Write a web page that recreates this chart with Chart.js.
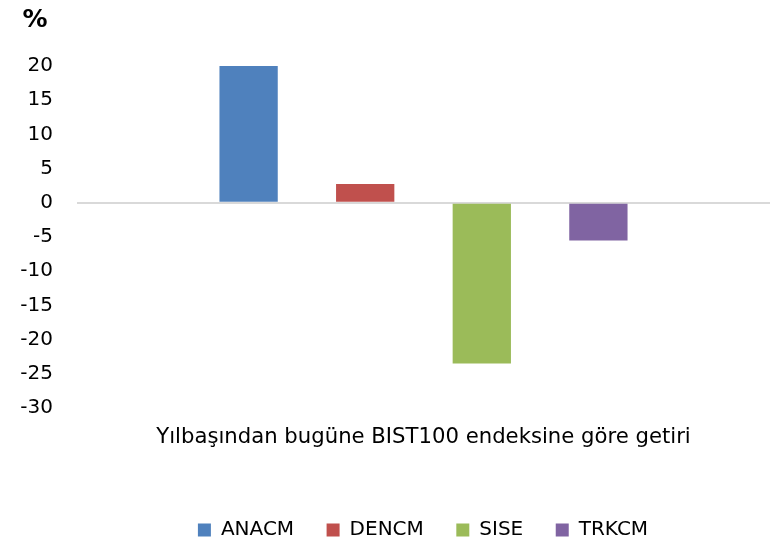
<!DOCTYPE html>
<html>
<head>
<meta charset="utf-8">
<script src="https://cdn.jsdelivr.net/npm/chart.js@4/dist/chart.umd.min.js"></script>
<style>
  html, body { margin: 0; padding: 0; background: #ffffff; }
  #wrap { width: 770px; height: 545px; }
</style>
</head>
<body>
<div id="wrap"><canvas id="c" width="770" height="545"></canvas></div>
<script>
// ---- data ----
const categories = ['Yılbaşından bugüne BIST100 endeksine göre getiri'];
const seriesNames = ['ANACM', 'DENCM', 'SISE', 'TRKCM'];
const anacm = [20];
const dencm = [2.75];
const sise = [-23.5];
const trkcm = [-5.5];
const yTickMin = -30;
const yTickMax = 20;
const yTickStep = 5;
const unitLabel = '%';

// ---- styles ----
const colors = ['#4F81BD', '#C0504D', '#9BBB59', '#8064A2'];
const FONT = "'DejaVu Sans', Verdana, sans-serif";
const seriesValues = [anacm, dencm, sise, trkcm];

const unitPlugin = {
  id: 'unitLabel',
  afterDraw(chart) {
    const ctx = chart.ctx;
    ctx.save();
    ctx.font = "bold 25px " + FONT;
    ctx.fillStyle = '#000000';
    ctx.textAlign = 'center';
    ctx.textBaseline = 'middle';
    ctx.fillText(unitLabel, 35, 20);
    ctx.restore();
  }
};

const legendShift = {
  id: 'legendShift',
  afterUpdate(chart) {
    const lg = chart.legend;
    if (!lg) return;
    const dx = 38, dy = 5;
    lg.left += dx; lg.right += dx;
    lg.top += dy; lg.bottom += dy;
  }
};

new Chart(document.getElementById('c'), {
  type: 'bar',
  data: {
    labels: categories,
    datasets: seriesNames.map((n, i) => ({
      label: n,
      data: seriesValues[i],
      backgroundColor: colors[i],
      borderWidth: 0,
      categoryPercentage: 0.673,
      barPercentage: 0.5
    }))
  },
  options: {
    responsive: false,
    animation: false,
    layout: { padding: { top: 66, left: 0, right: 0, bottom: 0 } },
    plugins: {
      legend: {
        position: 'bottom',
        labels: {
          boxWidth: 13,
          boxHeight: 13,
          padding: 32.5,
          color: '#000000',
          font: { family: FONT, size: 20 }
        }
      },
      tooltip: { enabled: false }
    },
    scales: {
      x: {
        grid: { display: false },
        border: { display: false },
        ticks: {
          color: '#000000',
          padding: 9,
          font: { family: FONT, size: 21.2 }
        },
        afterFit(scale) { scale.height = 74.5; }
      },
      y: {
        min: yTickMin,
        max: yTickMax,
        border: { display: false },
        grid: {
          drawTicks: false,
          lineWidth: 2,
          color: (ctx) => (ctx.tick && ctx.tick.value === 0) ? '#D9D9D9' : 'rgba(0,0,0,0)'
        },
        ticks: {
          stepSize: yTickStep,
          color: '#000000',
          padding: 24,
          font: { family: FONT, size: 20 }
        },
        afterFit(scale) { scale.width = 77; }
      }
    }
  },
  plugins: [unitPlugin, legendShift]
});
</script>
</body>
</html>
